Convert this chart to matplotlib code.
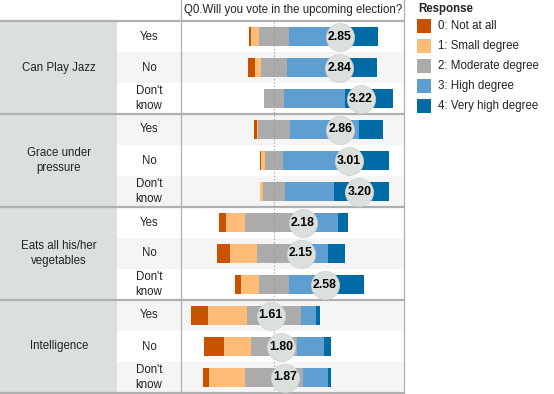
import matplotlib
matplotlib.use("Agg")
import matplotlib.pyplot as plt
import numpy as np
from matplotlib.patches import Rectangle

plt.rcParams["font.family"] = ["Liberation Sans", "DejaVu Sans"]
plt.rcParams["font.size"] = 8.3

# ------------------------------------------------------------------
# data (percent of respondents per answer level)
# ------------------------------------------------------------------

title = "Q0.Will you vote in the upcoming election?"
groups = ["Can Play Jazz", "Grace under\npressure", "Eats all his/her\nvegetables", "Intelligence"]
answers = ["Yes", "No", "Don't\nknow"]
levels = ["0: Not at all", "1: Small degree", "2: Moderate degree",
          "3: High degree", "4: Very high degree"]
colors = ["#C85200", "#FFBC79", "#ABABAB", "#5F9ED1", "#006BA4"]

not_at_all = [0.8, 4.9, 0.0, 2.3, 0.8, 0.0, 5.4, 10.1, 4.65, 13.2, 15.5, 4.65]
small = [6.2, 4.65, 0.0, 1.3, 3.1, 2.3, 14.7, 20.9, 13.2, 30.2, 20.9, 27.9]
moderate = [24.0, 20.9, 15.6, 24.3, 13.2, 17.8, 45.0, 26.4, 24.0, 41.6, 36.4, 45.7]
high = [45.2, 40.5, 46.9, 53.5, 60.1, 38.0, 27.1, 28.7, 35.6, 11.9, 20.9, 19.4]
very_high = [23.8, 29.0, 37.5, 18.6, 22.8, 41.9, 7.8, 13.2, 22.5, 2.9, 5.4, 2.3]
means = [2.85, 2.84, 3.22, 2.86, 3.01, 3.20, 2.18, 2.15, 2.58, 1.61, 1.80, 1.87]

# ------------------------------------------------------------------

W, H = 554, 394
fig = plt.figure(figsize=(W / 100, H / 100), dpi=100)

# table frame in pixel coordinates
bg = fig.add_axes([0, 0, 1, 1])
bg.set_xlim(0, W)
bg.set_ylim(H, 0)
bg.axis("off")

top, row_h = 21, 31
panel_l, panel_r = 181, 404
n_rows = len(groups) * len(answers)

bg.add_patch(Rectangle((0, top), 117, row_h * n_rows, color="#DBE0DC", lw=0))
for i in range(n_rows):
    if i % 2 == 1:
        bg.add_patch(Rectangle((117, top + i * row_h), panel_r - 117, row_h,
                               color="#F5F5F5", lw=0))
    bg.text(149, top + (i + 0.5) * row_h, answers[i % 3], ha="center",
            va="center", color="#222222", linespacing=1.3)

for g, name in enumerate(groups):
    y0 = top + g * 3 * row_h
    bg.text(59, y0 + 1.5 * row_h, name, ha="center", va="center",
            color="#222222", linespacing=1.3)
    bg.plot([0, panel_r], [y0, y0], color="#B0B0B0", lw=1.6)
bg.plot([0, panel_r], [top + n_rows * row_h] * 2, color="#B0B0B0", lw=1.6)
bg.plot([panel_l, panel_l], [0, H], color="#B0B0B0", lw=0.9)
bg.plot([panel_r, panel_r], [0, H], color="#B0B0B0", lw=0.9)
bg.text((panel_l + panel_r) / 2 + 0.5, 10, title, ha="center", va="center",
        fontsize=8.3, color="#222222")

# legend, drawn by hand
bg.text(418, 9, "Response", ha="left", va="center", fontweight="bold",
        color="#222222")
for k, (c, lab) in enumerate(zip(colors, levels)):
    yc = 25.5 + k * 20
    bg.add_patch(Rectangle((417, yc - 7), 14, 14, color=c, lw=0))
    bg.text(438, yc, lab, ha="left", va="center", color="#222222")

# ------------------------------------------------------------------
# diverging bars
# ------------------------------------------------------------------

ax = fig.add_axes([panel_l / W, (H - top - row_h * n_rows) / H,
                   (panel_r - panel_l) / W, row_h * n_rows / H])
ax.patch.set_visible(False)

vals = np.array([not_at_all, small, moderate, high, very_high])
rows = np.arange(n_rows)
left = -(vals[0] + vals[1] + vals[2] / 2)
for k in range(5):
    ax.barh(rows, vals[k], left=left, height=0.6, color=colors[k], lw=0)
    left = left + vals[k]

ax.axvline(0, color="#999999", ls=(0, (1, 2)), lw=0.8)
ax.set_xlim(-72.1, 100.8)
ax.set_ylim(n_rows - 0.5, -0.5)
ax.axis("off")

# mean markers on a 0..4 scale
ax2 = ax.twiny()
ax2.set_xlim(0, 4)
ax2.set_ylim(n_rows - 0.5, -0.5)
ax2.axis("off")
ax2.scatter(means, rows, s=410, color="#DBE0DC", edgecolors="#D0D4D0",
            linewidths=0.5, zorder=3)
for m, r in zip(means, rows):
    ax2.text(m, r, f"{m:.2f}", ha="center", va="center", fontsize=8.8,
             fontweight="bold", color="black", zorder=4)

fig.savefig("out.png", dpi=100)
